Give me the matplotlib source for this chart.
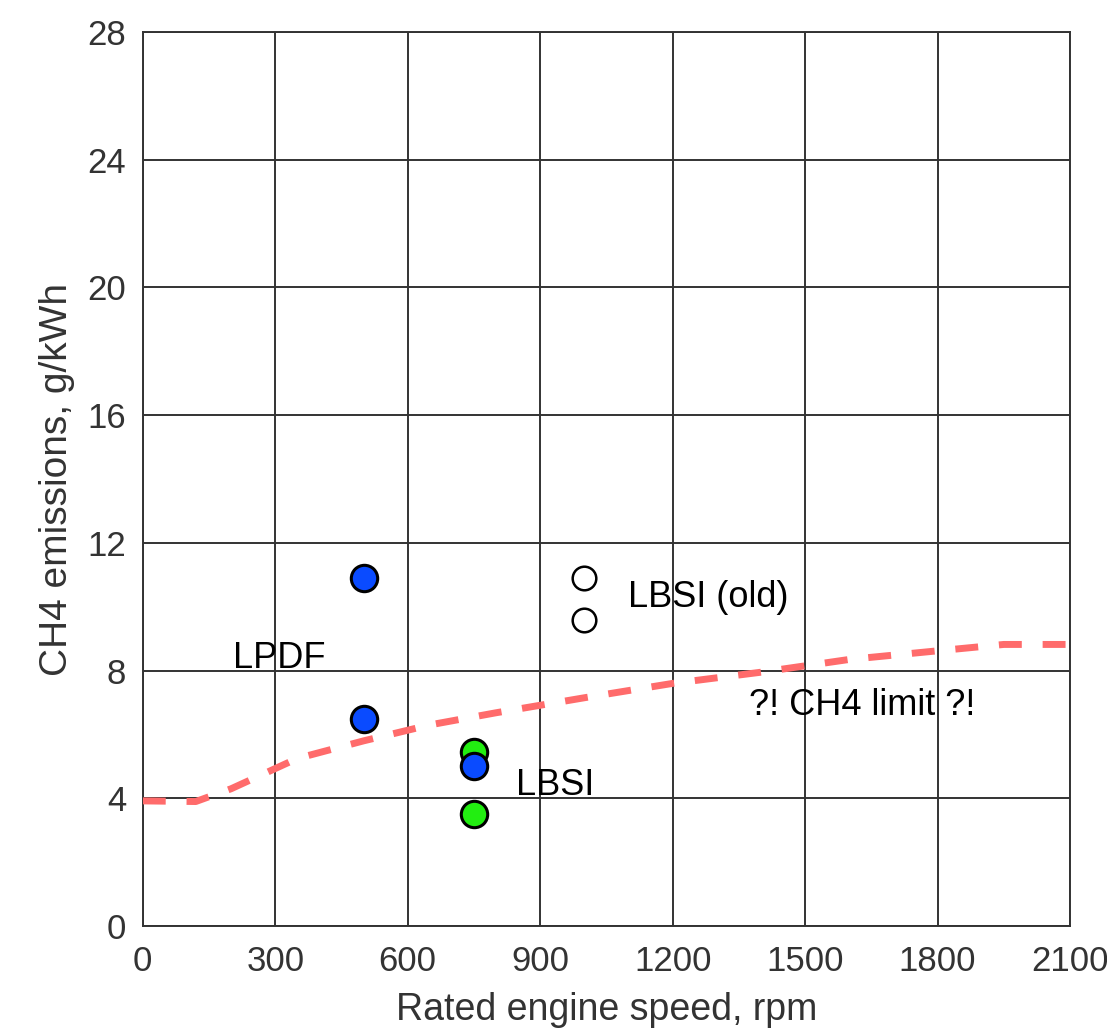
import matplotlib
matplotlib.use("Agg")
import matplotlib.pyplot as plt

plt.rcParams['font.family'] = ['Liberation Sans', 'DejaVu Sans']

# Data
lpdf_x = [500, 500, 750]
lpdf_y = [10.9, 6.5, 5.0]
lbsi_x = [750, 750]
lbsi_y = [5.45, 3.5]
old_x = [1000, 1000]
old_y = [10.9, 9.6]
limit_x = [0, 120, 200, 350, 500, 650, 800, 1000, 1200, 1400, 1600, 1800, 1950, 2100]
limit_y = [3.92, 3.9, 4.3, 5.25, 5.8, 6.3, 6.68, 7.15, 7.6, 7.95, 8.35, 8.62, 8.82, 8.82]
xticks = [0, 300, 600, 900, 1200, 1500, 1800, 2100]
yticks = [0, 4, 8, 12, 16, 20, 24, 28]

fig = plt.figure(figsize=(11.07, 10.34), dpi=100)
ax = fig.add_axes([0.129, 0.1044, 0.8376, 0.8646])

ax.set_xlim(0, 2100)
ax.set_ylim(0, 28)
ax.set_xticks(xticks)
ax.set_yticks(yticks)
ax.grid(True, color='#333333', linewidth=1.4)
ax.set_axisbelow(True)
for s in ax.spines.values():
    s.set_color('#333333')
    s.set_linewidth(1.4)
ax.tick_params(length=0, labelsize=25, colors='#333333', pad=12)
ax.tick_params(axis='x', pad=14)

ax.plot(limit_x, limit_y, color='#ff6b6b', linewidth=5, dashes=(3.3, 3.0),
        dash_capstyle='butt', solid_joinstyle='miter', zorder=3, clip_on=True)

ax.plot(lbsi_x, lbsi_y, 'o', markersize=19, markerfacecolor='#22ee11',
        markeredgecolor='black', markeredgewidth=2.2, zorder=4, linestyle='none')
ax.plot(lpdf_x, lpdf_y, 'o', markersize=19, markerfacecolor='#0a4bff',
        markeredgecolor='black', markeredgewidth=2.2, zorder=5, linestyle='none')
ax.plot(old_x, old_y, 'o', markersize=17, markerfacecolor='white',
        markeredgecolor='black', markeredgewidth=1.8, zorder=4, linestyle='none')

ax.text(205, 8.08, 'LPDF', fontsize=26, color='black', ha='left', va='baseline')
ax.text(845, 4.1, 'LBSI', fontsize=26, color='black', ha='left', va='baseline')
ax.text(1098, 10.0, 'LBSI (old)', fontsize=26, color='black', ha='left', va='baseline')
ax.text(1373, 6.6, '?! CH4 limit ?!', fontsize=26, color='black', ha='left', va='baseline')

ax.set_xlabel('Rated engine speed, rpm', fontsize=27, color='#333333', labelpad=10)
ax.set_ylabel('CH4 emissions, g/kWh', fontsize=28, color='#333333', labelpad=9)

fig.savefig('out.png', dpi=100)
